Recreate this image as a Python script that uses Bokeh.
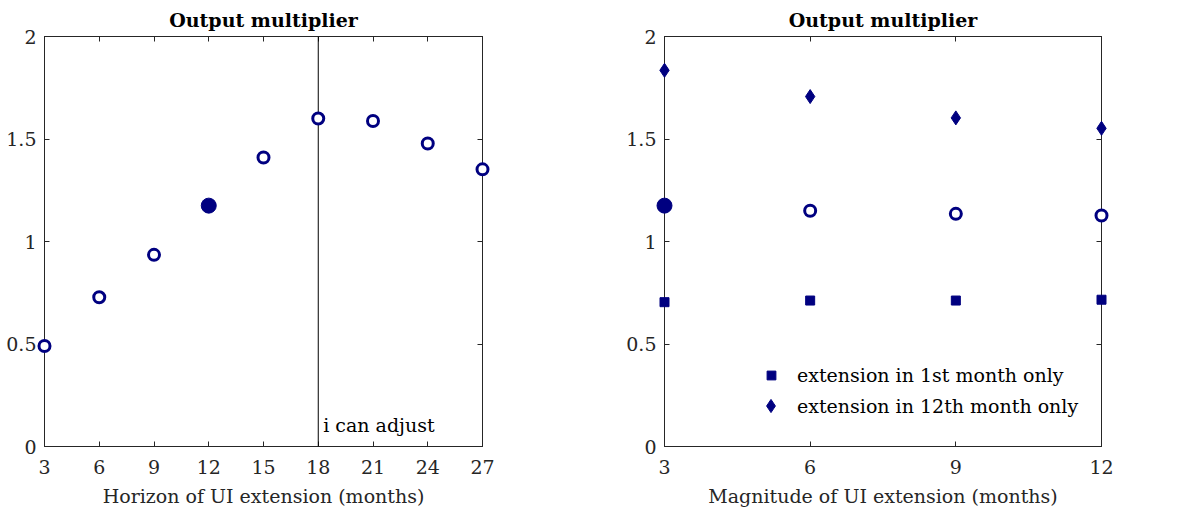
from bokeh.plotting import figure
from bokeh.models import Range1d, LinearAxis, FixedTicker, Span, Label, Legend, LegendItem
from bokeh.layouts import row
from bokeh.embed import file_html
from bokeh.resources import INLINE

# ---------------- data ----------------
horizon = [3, 6, 9, 12, 15, 18, 21, 24, 27]
mult_horizon = [0.49, 0.728, 0.935, 1.175, 1.41, 1.60, 1.588, 1.478, 1.352]
benchmark_horizon = 12

magnitude = [3, 6, 9, 12]
mult_magnitude = [1.175, 1.15, 1.135, 1.127]
mult_first_month = [0.704, 0.712, 0.712, 0.716]
mult_twelfth_month = [1.835, 1.707, 1.603, 1.552]
benchmark_magnitude = 3

y_ticks = [0, 0.5, 1, 1.5, 2]
y_tick_labels = ["0", "0.5", "1", "1.5", "2"]
x_ticks_left = [3, 6, 9, 12, 15, 18, 21, 24, 27]
x_ticks_right = [3, 6, 9, 12]
cutoff = 18

title_text = "Output multiplier"
xlabel_left = "Horizon of UI extension (months)"
xlabel_right = "Magnitude of UI extension (months)"
legend_labels = ["extension in 1st month only", "extension in 12th month only"]
note_text = "i can adjust"

# ---------------- style ----------------
FONT = "DejaVu Serif"
FS = "19px"
NAVY = "#000080"
AX = "#262626"


def make_fig(width, xr, xticks, xlabel, border_left, border_right):
    p = figure(width=width, height=511, output_backend="svg", toolbar_location=None,
               x_range=Range1d(*xr), y_range=Range1d(0, 2),
               min_border_left=border_left, min_border_right=border_right,
               min_border_top=36, min_border_bottom=65)
    p.grid.visible = False
    p.outline_line_color = AX
    p.outline_line_width = 1
    p.background_fill_color = "white"
    p.border_fill_color = "white"
    ylabels = {t: l for t, l in zip(y_ticks, y_tick_labels)}
    for ax in p.xaxis + p.yaxis:
        ax.axis_line_color = AX
        ax.major_tick_line_color = AX
        ax.major_tick_in = 5
        ax.major_tick_out = 0
        ax.minor_tick_line_color = None
        ax.major_label_text_font = FONT
        ax.major_label_text_font_size = FS
        ax.major_label_text_color = "#262626"
        ax.axis_label_text_font = FONT
        ax.axis_label_text_font_size = FS
        ax.axis_label_text_font_style = "normal"
        ax.axis_label_text_color = "#262626"
    p.xaxis.ticker = FixedTicker(ticks=xticks)
    p.yaxis.ticker = FixedTicker(ticks=y_ticks)
    p.yaxis.major_label_overrides = ylabels
    p.xaxis.major_label_standoff = 13
    p.yaxis.major_label_standoff = 8
    p.xaxis.axis_label = xlabel
    p.xaxis.axis_label_standoff = 8
    # box ticks on top and right
    top = LinearAxis(ticker=FixedTicker(ticks=xticks))
    right = LinearAxis(ticker=FixedTicker(ticks=y_ticks))
    for ax in (top, right):
        ax.axis_line_color = AX
        ax.major_tick_line_color = AX
        ax.major_tick_in = 5
        ax.major_tick_out = 0
        ax.minor_tick_line_color = None
        ax.major_label_text_color = None
        ax.major_label_text_font_size = "1px"
        ax.major_label_standoff = 0
        ax.axis_label_standoff = 0
    p.add_layout(top, "above")
    p.add_layout(right, "right")
    p.title.text = title_text
    p.title.text_font = FONT
    p.title.text_font_size = FS
    p.title.text_font_style = "bold"
    p.title.align = "center"
    p.title.text_color = "black"
    p.title.standoff = 12
    return p


# ---------------- left panel ----------------
p1 = make_fig(590, (3, 27), x_ticks_left, xlabel_left, 44, 108)
hx_open = [x for x in horizon if x != benchmark_horizon]
hy_open = [y for x, y in zip(horizon, mult_horizon) if x != benchmark_horizon]
hx_fill = [x for x in horizon if x == benchmark_horizon]
hy_fill = [y for x, y in zip(horizon, mult_horizon) if x == benchmark_horizon]

p1.add_layout(Span(location=cutoff, dimension="height", line_color="black", line_width=1))
r = p1.scatter(hx_open, hy_open, marker="circle", size=11, fill_color="white",
               line_color=NAVY, line_width=3)
r.level = "overlay"
r = p1.scatter(hx_fill, hy_fill, marker="circle", size=15, fill_color=NAVY, line_color=NAVY)
r.level = "overlay"
p1.add_layout(Label(x=cutoff, y=0.105, x_offset=5, text=note_text, text_font=FONT,
                    text_font_size=FS, text_color="black", text_baseline="alphabetic"))

# ---------------- right panel ----------------
p2 = make_fig(590, (3, 12), x_ticks_right, xlabel_right, 74, 79)
mx_open = [x for x in magnitude if x != benchmark_magnitude]
my_open = [y for x, y in zip(magnitude, mult_magnitude) if x != benchmark_magnitude]
mx_fill = [x for x in magnitude if x == benchmark_magnitude]
my_fill = [y for x, y in zip(magnitude, mult_magnitude) if x == benchmark_magnitude]

r = p2.scatter(mx_open, my_open, marker="circle", size=11, fill_color="white",
               line_color=NAVY, line_width=3)
r.level = "overlay"
r = p2.scatter(mx_fill, my_fill, marker="circle", size=15, fill_color=NAVY, line_color=NAVY)
r.level = "overlay"
rs = p2.scatter(magnitude, mult_first_month, marker="square", size=9,
                fill_color=NAVY, line_color=NAVY)
rs.level = "overlay"
rd = p2.scatter(magnitude, mult_twelfth_month, marker="diamond", size=14,
                fill_color=NAVY, line_color=NAVY)
rd.level = "overlay"

common = dict(border_line_color=None, background_fill_alpha=0,
              label_text_font=FONT, label_text_font_size=FS, label_text_color="black",
              padding=10, margin=0)
legend_sq = Legend(items=[LegendItem(label=legend_labels[0], renderers=[rs])],
                   location=(96, 60), glyph_width=22, glyph_height=22, label_height=22,
                   label_standoff=15, **common)
legend_di = Legend(items=[LegendItem(label=legend_labels[1], renderers=[rd])],
                   location=(90, 24), glyph_width=33, glyph_height=33, label_height=33,
                   label_standoff=10, **common)
p2.add_layout(legend_sq, "center")
p2.add_layout(legend_di, "center")

layout = row(p1, p2)
open("out.html", "w").write(file_html(layout, INLINE))
